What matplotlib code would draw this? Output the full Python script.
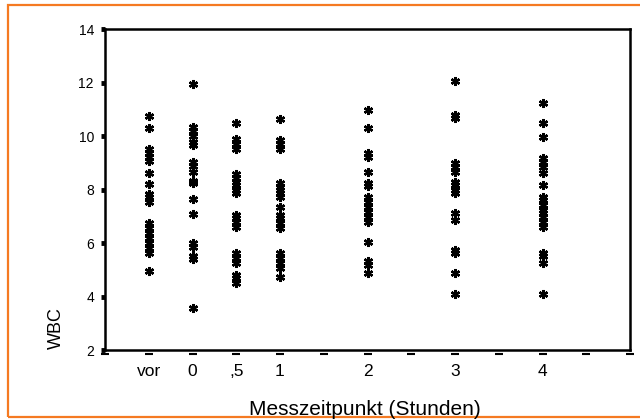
import numpy as np
import matplotlib
matplotlib.use("Agg")
import matplotlib.pyplot as plt
from matplotlib.patches import Rectangle

plt.rcParams['font.family'] = ['Liberation Sans', 'DejaVu Sans']

# measuring times (hours, "vor" = before) and their tick labels
zeit = [-0.5, 0, 0.5, 1, 2, 3, 4]
zeit_labels = ['vor', '0', ',5', '1', '2', '3', '4']

wbc_vor = [10.75, 10.31, 9.51, 9.38, 9.23, 9.05, 8.62, 8.22, 7.82, 7.71, 7.54,
           6.74, 6.55, 6.39, 6.18, 5.99, 5.82, 5.61, 4.95]
wbc_0 = [11.93, 10.35, 10.2, 10.01, 9.79, 9.66, 9.04, 8.89, 8.67, 8.32, 8.23,
         7.63, 7.08, 5.99, 5.86, 5.53, 5.39, 3.58]
wbc_05 = [10.5, 9.87, 9.70, 9.51, 8.58, 8.42, 8.29, 8.17, 8.0, 7.88,
          7.05, 6.92, 6.80, 6.61, 5.61, 5.43, 5.24, 4.80, 4.68, 4.49]
wbc_1 = [10.62, 9.85, 9.70, 9.51, 8.23, 8.10, 7.98, 7.86, 7.73, 7.36,
         7.05, 6.92, 6.74, 6.55, 5.61, 5.43, 5.24, 5.05, 4.74]
wbc_2 = [10.97, 10.31, 9.35, 9.23, 8.67, 8.25, 8.13, 7.73, 7.54, 7.36,
         7.17, 6.98, 6.80, 6.02, 5.34, 5.18, 4.89]
wbc_3 = [12.07, 10.79, 10.66, 8.98, 8.85, 8.67, 8.29, 8.17, 7.98, 7.86,
         7.11, 6.86, 5.74, 5.61, 4.89, 4.09]
wbc_4 = [11.24, 10.47, 9.95, 9.17, 9.02, 8.85, 8.63, 8.17, 7.73, 7.61, 7.42,
         7.23, 7.11, 6.98, 6.80, 6.61, 5.64, 5.51, 5.24, 4.09]
wbc = [wbc_vor, wbc_0, wbc_05, wbc_1, wbc_2, wbc_3, wbc_4]

fig = plt.figure(figsize=(6.4, 4.2), dpi=100)
ax = fig.add_axes([105 / 640, 1 - 350 / 420, 525 / 640, 321 / 420])

for t, vals in zip(zeit, wbc):
    ax.plot([t] * len(vals), vals, linestyle='none', marker=(6, 2, 0),
            ms=6.5, mew=1.7, color='black')

ax.set_xlim(-1, 5)
ax.set_ylim(2, 14)
ax.set_yticks(range(2, 15, 2))
ax.set_xticks(zeit)
ax.set_xticklabels(zeit_labels, fontsize=12.5)
ax.tick_params(axis='x', length=0, pad=10)
ax.tick_params(axis='y', direction='out', length=3, width=3.5, labelsize=10, pad=5)

# dash-shaped tick marks below the x axis, every half hour
ax.plot(np.arange(-1, 5.01, 0.5), [-0.013] * 13, linestyle='none', marker='_',
        ms=6, mew=1.5, color='black', transform=ax.get_xaxis_transform(),
        clip_on=False)

for s in ax.spines.values():
    s.set_linewidth(1.8)
    s.set_color('black')

fig.text(364.5 / 640, 1 - 415 / 420, 'Messzeitpunkt (Stunden)', fontsize=15,
         ha='center', va='baseline')
fig.text(56 / 640, 1 - 328 / 420, 'WBC', fontsize=13, rotation=90,
         ha='center', va='center')

# orange frame around the chart
fig.patches.append(Rectangle((8 / 640, 3 / 420), 1.0, 412 / 420,
                             transform=fig.transFigure, fill=False,
                             edgecolor='#f57a22', linewidth=1.6))

fig.savefig('out.png', dpi=100)
